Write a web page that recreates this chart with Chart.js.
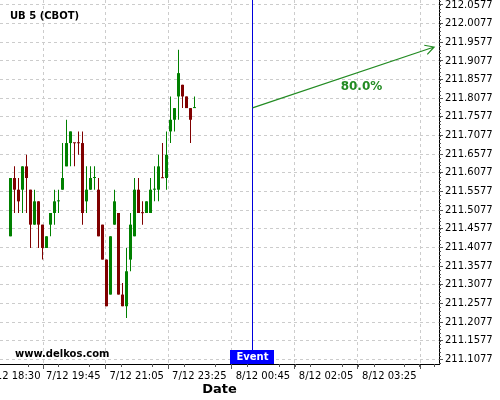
<!DOCTYPE html>
<html>
<head>
<meta charset="utf-8">
<script src="https://cdn.jsdelivr.net/npm/chart.js@4/dist/chart.umd.min.js"></script>
<style>
  html, body { margin: 0; padding: 0; background: #fff; overflow: hidden; }
  canvas { display: block; }
</style>
</head>
<body>
<canvas id="chart" width="500" height="400"></canvas>
<script>
// candle data, 5 minute bars
const opens = [211.4375, 211.59375, 211.5625, 211.5625, 211.625, 211.5625, 211.46875, 211.53125, 211.46875, 211.40625,
  211.46875, 211.5, 211.53125, 211.5625, 211.625, 211.6875, 211.6875, 211.6875, 211.6875, 211.53125,
  211.5625, 211.59375, 211.5625, 211.46875, 211.375, 211.28125, 211.46875, 211.5, 211.28125, 211.25,
  211.375, 211.4375, 211.5625, 211.5, 211.5, 211.5, 211.5625, 211.5625, 211.59375, 211.59375,
  211.71875, 211.75, 211.8125, 211.84375, 211.8125, 211.78125, 211.78125];
const highs = [211.59375, 211.625, 211.59375, 211.625, 211.65625, 211.5625, 211.5625, 211.53125, 211.46875, 211.4375,
  211.5, 211.5625, 211.5625, 211.6875, 211.75, 211.71875, 211.6875, 211.71875, 211.71875, 211.625,
  211.625, 211.625, 211.59375, 211.46875, 211.375, 211.4375, 211.5625, 211.5, 211.3125, 211.40625,
  211.5, 211.59375, 211.59375, 211.53125, 211.53125, 211.59375, 211.625, 211.65625, 211.6875, 211.71875,
  211.8125, 211.78125, 211.9375, 211.84375, 211.8125, 211.78125, 211.8125];
const lows = [211.4375, 211.5, 211.5, 211.5, 211.5, 211.40625, 211.46875, 211.40625, 211.375, 211.40625,
  211.4375, 211.46875, 211.5, 211.5625, 211.625, 211.625, 211.625, 211.65625, 211.46875, 211.5,
  211.5625, 211.5625, 211.4375, 211.375, 211.25, 211.28125, 211.46875, 211.28125, 211.25, 211.21875,
  211.34375, 211.4375, 211.5, 211.46875, 211.5, 211.5, 211.53125, 211.53125, 211.59375, 211.5625,
  211.6875, 211.71875, 211.75, 211.78125, 211.78125, 211.6875, 211.78125];
const closes = [211.59375, 211.5625, 211.53125, 211.625, 211.59375, 211.46875, 211.53125, 211.46875, 211.40625, 211.4375,
  211.5, 211.53125, 211.5318, 211.59375, 211.6875, 211.71875, 211.687, 211.687, 211.5, 211.5625,
  211.59375, 211.5943, 211.4375, 211.375, 211.25, 211.4375, 211.53125, 211.28125, 211.25, 211.34375,
  211.46875, 211.5625, 211.5, 211.4995, 211.53125, 211.5625, 211.563, 211.625, 211.5932, 211.65625,
  211.75, 211.78125, 211.875, 211.8125, 211.78125, 211.75, 211.7818];

const yTicks = [211.1077, 211.1577, 211.2077, 211.2577, 211.3077, 211.3577, 211.4077, 211.4577, 211.5077, 211.5577,
  211.6077, 211.6577, 211.7077, 211.7577, 211.8077, 211.8577, 211.9077, 211.9577, 212.0077, 212.0577];
const xTickLabels = ["7/12 18:30", "7/12 19:45", "7/12 21:05", "7/12 23:25", "8/12 00:45", "8/12 02:05", "8/12 03:25"];
const xTickSlots = [0.7, 15.7, 31.55, 47.2, 63.1, 78.9, 94.7];

const eventSlot = 60.25;
const arrowEndSlot = 105.9;
const arrowTarget = 211.945;
const probability = "80.0%";

const UP = "#008000", DOWN = "#800000";
const candleColors = opens.map((o, i) => closes[i] >= o ? UP : DOWN);

Chart.defaults.font.family = "'DejaVu Sans', sans-serif";
Chart.defaults.color = "#000";

// labels, event marker, arrow and minor ticks
const overlay = {
  id: "overlay",
  afterDatasetsDraw(chart) {
    const { ctx, chartArea: a, scales: { x, y } } = chart;
    ctx.save();

    // minor ticks
    ctx.strokeStyle = "#555";
    ctx.lineWidth = 1;
    ctx.beginPath();
    for (let v = yTicks[0] - 0.01; v <= y.max; v += 0.01) {
      const py = Math.round(y.getPixelForValue(v)) + 0.5;
      if (py < a.top || py > a.bottom) continue;
      ctx.moveTo(a.right, py);
      ctx.lineTo(a.right + 2, py);
    }
    const step = xTickSlots[1] - xTickSlots[0];
    for (let i = 0; i < xTickSlots.length; i++) {
      const next = i < xTickSlots.length - 1 ? xTickSlots[i + 1] : xTickSlots[i] + step;
      for (let k = 1; k < 4; k++) {
        const px = Math.round(x.getPixelForValue(xTickSlots[i] + (next - xTickSlots[i]) * k / 4)) + 0.5;
        if (px > a.right) continue;
        ctx.moveTo(px, a.bottom);
        ctx.lineTo(px, a.bottom + 3);
      }
    }
    ctx.stroke();

    // event line + tag
    const ex = Math.round(x.getPixelForValue(eventSlot)) + 0.5;
    ctx.strokeStyle = "#0000dd";
    ctx.beginPath();
    ctx.moveTo(ex, a.top);
    ctx.lineTo(ex, a.bottom);
    ctx.stroke();
    ctx.fillStyle = "#0000ff";
    ctx.fillRect(ex - 22.5, a.bottom - 14, 44, 14);
    ctx.fillStyle = "#fff";
    ctx.font = "bold 10px 'DejaVu Sans'";
    ctx.textAlign = "center";
    ctx.textBaseline = "middle";
    ctx.fillText("Event", ex, a.bottom - 7);

    // projection arrow
    const x0 = ex, y0 = y.getPixelForValue(closes[closes.length - 1]);
    const x1 = x.getPixelForValue(arrowEndSlot), y1 = y.getPixelForValue(arrowTarget);
    const ang = Math.atan2(y1 - y0, x1 - x0);
    ctx.strokeStyle = "#228b22";
    ctx.lineWidth = 1.2;
    ctx.beginPath();
    ctx.moveTo(x0, y0);
    ctx.lineTo(x1, y1);
    ctx.moveTo(x1 - 10 * Math.cos(ang - 0.5), y1 - 10 * Math.sin(ang - 0.5));
    ctx.lineTo(x1, y1);
    ctx.lineTo(x1 - 10 * Math.cos(ang + 0.5), y1 - 10 * Math.sin(ang + 0.5));
    ctx.stroke();
    ctx.fillStyle = "#228b22";
    ctx.font = "bold 12px 'DejaVu Sans'";
    ctx.fillText(probability, x0 + (x1 - x0) * 0.6, y0 + (y1 - y0) * 0.6 + 15);

    // titles
    ctx.fillStyle = "#000";
    ctx.textAlign = "left";
    ctx.font = "bold 10px 'DejaVu Sans'";
    ctx.fillText("UB 5 (CBOT)", a.left + 10, a.top + 16);
    ctx.fillText("www.delkos.com", a.left + 15, a.bottom - 10);
    ctx.restore();
  }
};

const ctx = document.getElementById("chart").getContext("2d");
const chart = new Chart(ctx, {
  type: "bar",
  data: {
    datasets: [
      {
        label: "body",
        data: opens.map((o, i) => ({ x: i, y: [o, closes[i]] })),
        backgroundColor: candleColors,
        barThickness: 3,
        minBarLength: 1,
        inflateAmount: 0,
        grouped: false
      },
      {
        label: "wick",
        data: lows.map((l, i) => ({ x: i, y: [l, highs[i]] })),
        backgroundColor: candleColors,
        barThickness: 1,
        inflateAmount: 0,
        grouped: false
      }
    ]
  },
  options: {
    responsive: false,
    animation: false,
    layout: { padding: 0 },
    plugins: { legend: { display: false }, tooltip: { enabled: false } },
    scales: {
      x: {
        type: "linear",
        min: -2.625,
        max: 107.125,
        offset: false,
        afterBuildTicks: s => { s.ticks = xTickSlots.map(v => ({ value: v })); },
        afterFit: s => { s.height = 36; s.paddingLeft = 0; s.paddingRight = 0; },
        ticks: {
          autoSkip: false,
          maxRotation: 0,
          padding: 1,
          font: { size: 10 },
          callback: (v, i) => xTickLabels[i]
        },
        grid: { color: "#cccccc", tickColor: "#555", tickLength: 5 },
        border: { display: true, color: "#000", width: 1, dash: [3, 3] },
        title: { display: true, text: "Date", font: { size: 13, weight: "bold" }, padding: { top: 0, bottom: 3 } }
      },
      y: {
        position: "right",
        min: 211.0951,
        max: 212.0711,
        afterBuildTicks: s => { s.ticks = yTicks.map(v => ({ value: v })); },
        afterFit: s => { s.width = 61; s.paddingTop = 0; s.paddingBottom = 0; },
        ticks: {
          padding: 2,
          font: { size: 10 },
          callback: v => v.toFixed(4)
        },
        grid: { color: "#cccccc", tickColor: "#555", tickLength: 4 },
        border: { display: true, color: "#000", width: 1, dash: [3, 3] }
      }
    }
  },
  plugins: [overlay]
});
</script>
</body>
</html>
